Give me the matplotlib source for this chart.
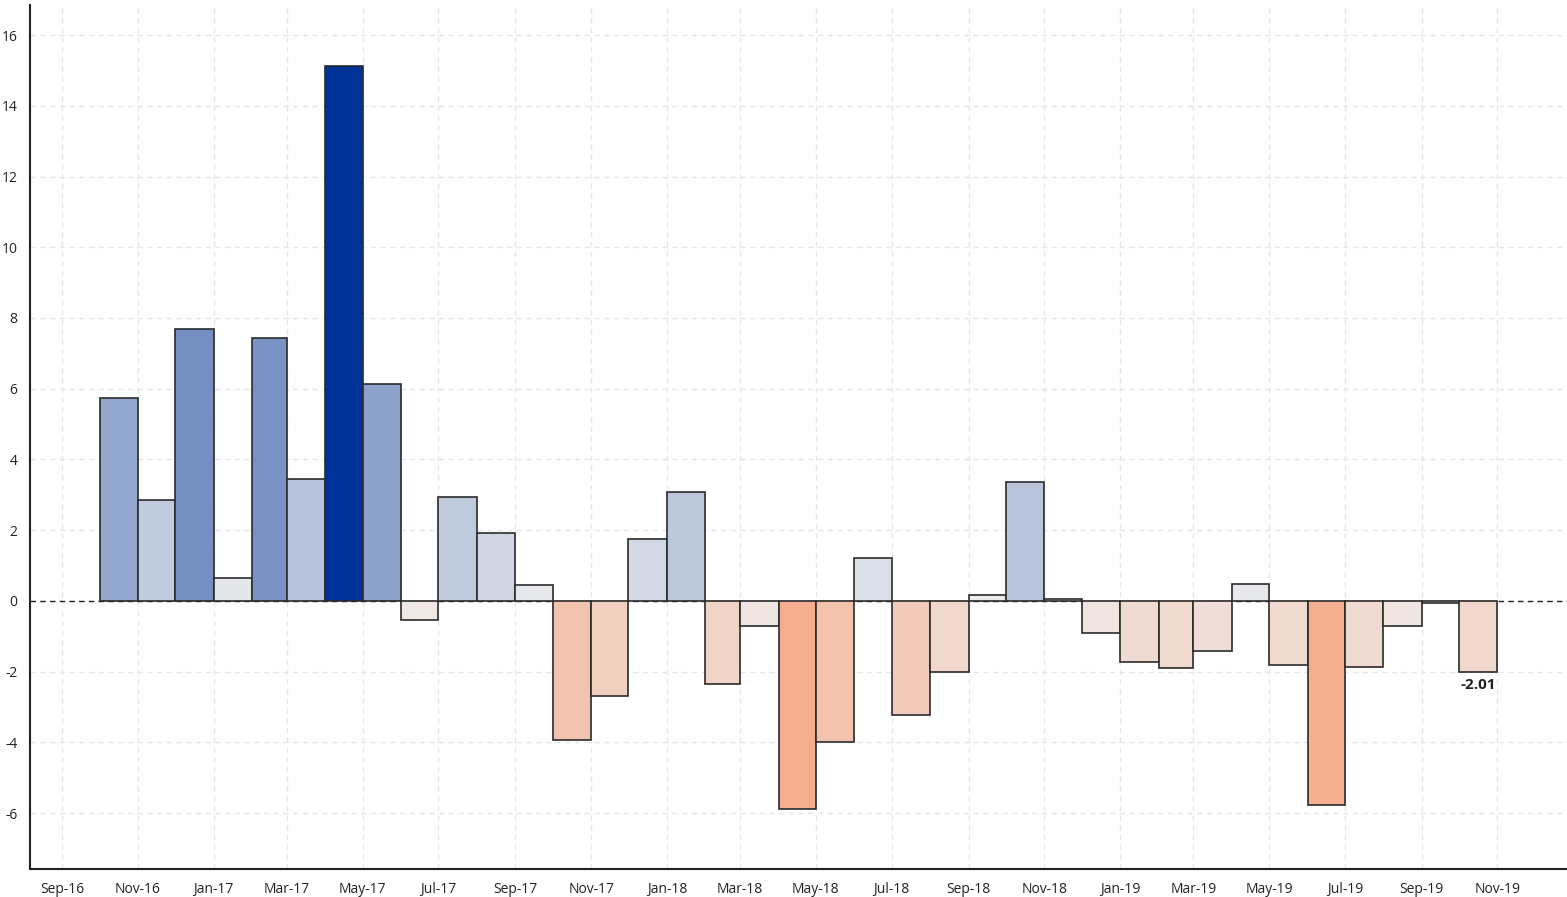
import pandas as pd
import numpy as np
import matplotlib
matplotlib.use("Agg")
import matplotlib.pyplot as plt
import matplotlib.dates as mdates

# =====================================
# Data
# =====================================

months = pd.date_range("2016-10-01", "2019-10-01", freq="MS")

values = [
    5.74, 2.85, 7.70, 0.66, 7.43, 3.44, 15.12, 6.14,
    -0.55, 2.95, 1.91, 0.45, -3.93, -2.68, 1.75, 3.08,
    -2.34, -0.71, -5.89, -3.98, 1.22, -3.23, -2.00, 0.18,
    3.37, 0.06, -0.90, -1.73, -1.91, -1.41, 0.48, -1.81,
    -5.78, -1.86, -0.72, -0.05, -2.01,
]

# =====================================
# Colours (grey -> blue / grey -> salmon)
# =====================================

mid = np.array([238, 238, 238]) / 255
blue = np.array([0, 51, 153]) / 255
red = np.array([244, 173, 142]) / 255

vmax = max(values)
vmin = min(values)


def bar_colour(v):
    if v >= 0:
        t = v / vmax
        return tuple(mid + (blue - mid) * t)
    t = v / vmin
    return tuple(mid + (red - mid) * t)


colours = [bar_colour(v) for v in values]
widths = [m.days_in_month for m in months]

# =====================================
# Plot
# =====================================

plt.rcParams["font.family"] = ["Open Sans", "DejaVu Sans"]
plt.rcParams["axes.unicode_minus"] = False

fig = plt.figure(figsize=(15.67, 8.97), dpi=100)
ax = fig.add_axes([30 / 1567, 28 / 897, 1537 / 1567, 864 / 897])

ax.grid(True, color="#e6e6e6", linestyle=(0, (4, 3)), linewidth=1.0, zorder=0)
ax.set_axisbelow(True)

ax.axhline(0, color="#222222", linestyle=(0, (4, 3)), linewidth=1.0, zorder=1)

ax.bar(
    months,
    values,
    width=widths,
    align="edge",
    color=colours,
    edgecolor="#2b2b2b",
    linewidth=1.2,
    zorder=2,
)

last_x = months[-1] + pd.Timedelta(days=widths[-1] / 2)
ax.annotate(
    f"{values[-1]:.2f}",
    xy=(last_x, values[-1]),
    xytext=(0, -4),
    textcoords="offset points",
    ha="center",
    va="top",
    fontsize=11,
    fontweight="bold",
    color="#222222",
)

ax.set_xlim(pd.Timestamp("2016-08-06"), pd.Timestamp("2019-12-27"))
ax.set_ylim(-7.58, 16.85)
ax.set_yticks(range(-6, 17, 2))

ax.xaxis.set_major_locator(mdates.MonthLocator(bymonth=[1, 3, 5, 7, 9, 11]))
ax.xaxis.set_major_formatter(mdates.DateFormatter("%b-%y"))

ax.tick_params(axis="both", length=0, labelsize=10, colors="#222222")
ax.tick_params(axis="x", pad=9)
ax.tick_params(axis="y", pad=9)

for side in ["top", "right"]:
    ax.spines[side].set_visible(False)
for side in ["left", "bottom"]:
    ax.spines[side].set_color("#222222")
    ax.spines[side].set_linewidth(1.5)

plt.savefig("out.png", dpi=100)
plt.close()
